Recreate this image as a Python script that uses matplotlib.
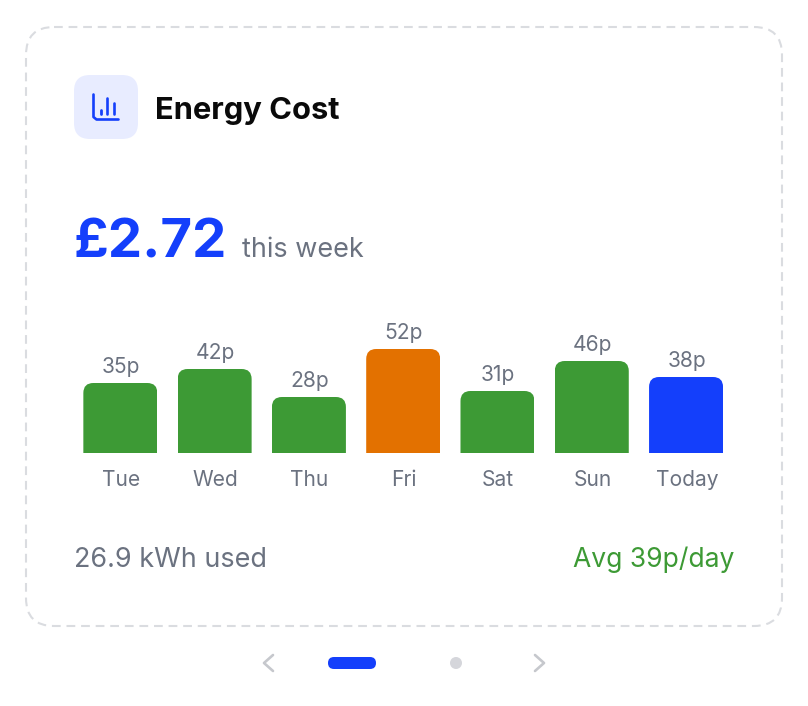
import matplotlib
matplotlib.use("Agg")
import matplotlib.pyplot as plt
from matplotlib.patches import FancyBboxPatch, Circle
from matplotlib.path import Path
from matplotlib.transforms import IdentityTransform, Affine2D

days = ["Tue", "Wed", "Thu", "Fri", "Sat", "Sun", "Today"]
costs = [35, 42, 28, 52, 31, 46, 38]
colors = ["#3d9a35", "#3d9a35", "#3d9a35", "#e37100", "#3d9a35", "#3d9a35", "#143ffb"]
labels = [f"{c}p" for c in costs]
title = "Energy Cost"
big_value = "£2.72"
big_sub = "this week"
foot_left = "26.9 kWh used"
foot_right = "Avg 39p/day"

BLUE = "#143ffb"
GREY = "#6b7280"
GREEN = "#3d9a35"
W, H = 808, 706
plt.rcParams["font.family"] = ["Inter", "DejaVu Sans"]
fig = plt.figure(figsize=(W / 100, H / 100), dpi=100, facecolor="white")
px = lambda v: v * 0.72  # px to pt

bg = fig.add_axes([0, 0, 1, 1])
bg.set_xlim(0, W); bg.set_ylim(H, 0); bg.axis("off")

def rbox(x0, y0, x1, y1, r, **kw):
    p = FancyBboxPatch((x0 + r, y0 + r), x1 - x0 - 2 * r, y1 - y0 - 2 * r,
                       boxstyle=f"round,pad={r},rounding_size={r}", **kw)
    bg.add_patch(p)
    return p

rbox(26, 27, 782, 626, 28, fc="white", ec="#dadce0", lw=1.5, ls=(0, (4.2, 2.8)))
rbox(74, 75, 138, 139, 16, fc="#e8ecff", ec="none")

# icon
icon = dict(color=BLUE, lw=1.9, solid_capstyle="round", solid_joinstyle="round")
bg.plot([93.5, 93.5, 96.5, 118.5], [94.5, 117, 119.5, 119.5], **icon)
bg.plot([100.5, 100.5], [110, 114], color=BLUE, lw=2.0, solid_capstyle="round")
bg.plot([107, 107], [97.5, 114], color=BLUE, lw=1.9, solid_capstyle="round")
bg.plot([113.5, 113.5], [103, 114], color=BLUE, lw=1.9, solid_capstyle="round")

bg.text(155, 108, title, fontsize=px(30.9), fontweight="bold", color="#0a0a0a", va="center_baseline")
bg.text(74, 258, big_value, fontsize=px(54.5), fontweight="bold", color=BLUE, va="baseline")
bg.text(242.5, 257, big_sub, fontsize=px(27), color=GREY, va="baseline")
bg.text(74.5, 567, foot_left, fontsize=px(27), color=GREY, va="baseline")
bg.text(734, 567, foot_right, fontsize=px(26.5), color=GREEN, va="baseline", ha="right")

# pager
bg.plot([273, 264, 273], [655, 663, 671], color="#c6c8cd", lw=1.9, solid_capstyle="round", solid_joinstyle="round")
bg.plot([535, 544, 535], [655, 663, 671], color="#c6c8cd", lw=1.9, solid_capstyle="round", solid_joinstyle="round")
rbox(328, 657, 376, 669, 6, fc=BLUE, ec="none")
bg.add_patch(Circle((456, 663), 6, fc="#d5d6db", ec="none"))

# bars
left, right, top, base = 73.2, 733.2, 293, 453
ax = fig.add_axes([left / W, 1 - base / H, (right - left) / W, (base - top) / H])
ax.patch.set_alpha(0)
ax.set_xlim(-0.5, 6.5)
ax.set_ylim(0, 80)
bars = ax.bar(range(len(days)), costs, width=74 / 94.29, color=colors)
for s in ax.spines.values():
    s.set_visible(False)
ax.set_yticks([])
ax.set_xticks(range(len(days)), days)
ax.tick_params(axis="x", length=0, pad=12, labelsize=px(21), labelcolor=GREY)
nudge = Affine2D().translate(0.7, 0)
for t in ax.get_xticklabels():
    t.set_transform(t.get_transform() + nudge)
for t in ax.bar_label(bars, labels=labels, padding=4.5, fontsize=px(21), color=GREY):
    t.set_x(t.get_position()[0])
    t.xyann = (0.7 * 0.72, t.xyann[1])

# round the top corners of each bar
r = 10
for b in bars:
    (x0, y0), (x1, y1) = ax.transData.transform([(b.get_x(), 0), (b.get_x() + b.get_width(), b.get_height())])
    verts = [(x0, y0 - 2), (x0, y1 - r), (x0, y1), (x0 + r, y1), (x1 - r, y1), (x1, y1), (x1, y1 - r), (x1, y0 - 2), (x0, y0 - 2)]
    codes = [Path.MOVETO, Path.LINETO, Path.CURVE3, Path.CURVE3, Path.LINETO, Path.CURVE3, Path.CURVE3, Path.LINETO, Path.CLOSEPOLY]
    b.set_clip_path(Path(verts, codes), IdentityTransform())

fig.savefig("out.png", dpi=100, facecolor="white")
